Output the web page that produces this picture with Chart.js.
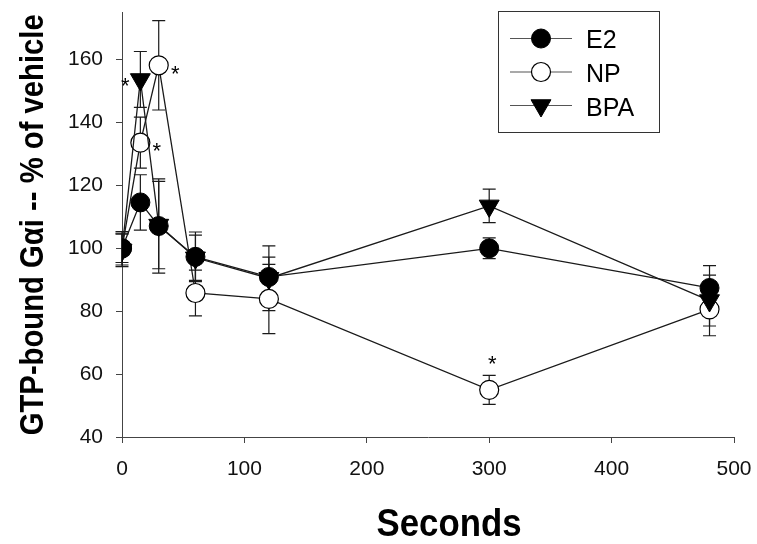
<!DOCTYPE html>
<html><head><meta charset="utf-8">
<script src="https://cdn.jsdelivr.net/npm/chart.js@4/dist/chart.umd.min.js"></script>
<style>html,body{margin:0;padding:0;background:#fff;overflow:hidden}#wrap{width:757px;height:544px}</style>
</head><body><div id="wrap"><canvas id="c" width="757" height="544"></canvas></div>
<script>
// ---- data ----
const seconds = [0, 15, 30, 60, 120, 300, 480];
const e2Values  = [100, 114.6, 107.1, 97.3, 90.9, 100.0, 87.4];
const e2Errors  = [5.3, 8.8, 15.0, 7.9, 6.3, 3.3, 7.1];
const npValues  = [100, 133.6, 158.2, 85.8, 83.9, 55.0, 80.6];
const npErrors  = [4.5, 8.1, 14.2, 7.3, 11.0, 4.6, 8.4];
const bpaValues = [99.5, 153.7, 107.4, 97.0, 90.5, 113.5, 83.4];
const bpaErrors = [5.3, 8.9, 13.9, 7.2, 10.3, 5.3, 8.1];
const seriesNames = ['E2', 'NP', 'BPA'];
const xTicks = [0, 100, 200, 300, 400, 500];
const yTicks = [40, 60, 80, 100, 120, 140, 160];
const xTitle = 'Seconds';
const yTitle = 'GTP-bound G\u03b1i -- % of vehicle';
const starMarks = [['BPA', 15, 'left'], ['NP', 15, 'right'], ['NP', 30, 'right'], ['NP', 300, 'above']];

const INK = '#1a1a1a';
const tickFont = {family: "'Liberation Sans', Arial, sans-serif", size: 21};

function pts(vals, errs) { return seconds.map((s, i) => ({x: s, y: vals[i], err: errs[i]})); }

const datasets = [
  {label: seriesNames[0], data: pts(e2Values, e2Errors), order: 0,
   pointStyle: 'circle', pointRadius: 9.5, pointBackgroundColor: '#000', pointBorderColor: '#000', pointBorderWidth: 1},
  {label: seriesNames[1], data: pts(npValues, npErrors), order: 2,
   pointStyle: 'circle', pointRadius: 9.5, pointBackgroundColor: '#fff', pointBorderColor: '#000', pointBorderWidth: 1.2},
  {label: seriesNames[2], data: pts(bpaValues, bpaErrors), order: 1,
   pointStyle: 'triangle', rotation: 180, pointRotation: 180, pointRadius: 11.5, pointBackgroundColor: '#000', pointBorderColor: '#000', pointBorderWidth: 1}
].map(d => Object.assign({borderColor: INK, borderWidth: 1.3, tension: 0, showLine: true, fill: false, pointHoverRadius: d.pointRadius}, d));

const errorBars = {
  id: 'errorBars',
  beforeDatasetsDraw(chart) {
    const ctx = chart.ctx, xs = chart.scales.x, ys = chart.scales.y;
    ctx.save();
    ctx.strokeStyle = INK; ctx.lineWidth = 1.2;
    chart.data.datasets.forEach(ds => {
      ds.data.forEach(p => {
        const x = xs.getPixelForValue(p.x);
        const y1 = ys.getPixelForValue(p.y + p.err), y2 = ys.getPixelForValue(p.y - p.err);
        ctx.beginPath();
        ctx.moveTo(x, y1); ctx.lineTo(x, y2);
        ctx.moveTo(x - 6.5, y1); ctx.lineTo(x + 6.5, y1);
        ctx.moveTo(x - 6.5, y2); ctx.lineTo(x + 6.5, y2);
        ctx.stroke();
      });
    });
    ctx.restore();
  }
};

function drawMarker(ctx, ds, x, y) {
  ctx.save();
  ctx.fillStyle = ds.pointBackgroundColor; ctx.strokeStyle = ds.pointBorderColor; ctx.lineWidth = ds.pointBorderWidth;
  const r = ds.pointRadius;
  ctx.beginPath();
  if (ds.pointStyle === 'triangle') {
    let a = Math.PI;
    ctx.moveTo(x + Math.sin(a) * r, y - Math.cos(a) * r);
    a += 2 * Math.PI / 3; ctx.lineTo(x + Math.sin(a) * r, y - Math.cos(a) * r);
    a += 2 * Math.PI / 3; ctx.lineTo(x + Math.sin(a) * r, y - Math.cos(a) * r);
    ctx.closePath();
  } else {
    ctx.arc(x, y, r, 0, Math.PI * 2);
  }
  ctx.fill(); ctx.stroke();
  ctx.restore();
}

function drawFitted(ctx, text, cx, cy, rot, size, width) {
  ctx.save();
  ctx.font = "bold " + size + "px 'Liberation Sans', Arial, sans-serif";
  const w = ctx.measureText(text).width;
  ctx.translate(cx, cy); ctx.rotate(rot); ctx.scale(width / w, 1);
  ctx.textAlign = 'center'; ctx.textBaseline = 'alphabetic'; ctx.fillStyle = '#000';
  ctx.fillText(text, 0, size * 0.36);
  ctx.restore();
}

const decorations = {
  id: 'decorations',
  afterDraw(chart) {
    const ctx = chart.ctx, xs = chart.scales.x, ys = chart.scales.y, ca = chart.chartArea;
    ctx.save();
    ctx.font = "22px 'Liberation Sans', Arial, sans-serif";
    ctx.fillStyle = '#000'; ctx.textAlign = 'center'; ctx.textBaseline = 'alphabetic';
    starMarks.forEach(([name, sec, side]) => {
      const ds = chart.data.datasets.find(d => d.label === name);
      const p = ds.data.find(q => q.x === sec);
      let x = xs.getPixelForValue(p.x), y = ys.getPixelForValue(p.y);
      if (side === 'left') { x -= 15; }
      else if (side === 'right') { x += 16.5; y += 2; }
      else { x += 3; y -= 32; }
      ctx.fillText('*', x, y + 22 * 0.6);
    });
    ctx.restore();
    const lx = 498.5, ly = 11.5, lw = 161, lh = 121;
    ctx.save();
    ctx.fillStyle = '#fff'; ctx.fillRect(lx, ly, lw, lh);
    ctx.strokeStyle = '#333'; ctx.lineWidth = 1; ctx.strokeRect(lx, ly, lw, lh);
    const rows = [38.5, 72, 105.5];
    chart.data.datasets.forEach((ds, i) => {
      const y = rows[i];
      ctx.strokeStyle = '#555'; ctx.lineWidth = 1.2;
      ctx.beginPath(); ctx.moveTo(510, y); ctx.lineTo(572, y); ctx.stroke();
      drawMarker(ctx, ds, 541, y);
      ctx.fillStyle = '#000'; ctx.font = "25px 'Liberation Sans', Arial, sans-serif";
      ctx.textAlign = 'left'; ctx.textBaseline = 'alphabetic';
      ctx.fillText(ds.label, 586, (i === 2 ? 106 : y) + 9.5);
    });
    ctx.restore();
    drawFitted(ctx, xTitle, 449, 522, 0, 38, 145);
    drawFitted(ctx, yTitle, 31, (ca.top + ca.bottom) / 2, -Math.PI / 2, 34, 421);
  }
};

new Chart(document.getElementById('c'), {
  type: 'line',
  data: {datasets},
  options: {
    responsive: false, animation: false, devicePixelRatio: 1,
    layout: {padding: {top: 8, right: 23, left: 0, bottom: 0}},
    plugins: {legend: {display: false}, tooltip: {enabled: false}},
    scales: {
      x: {type: 'linear', min: 0, max: 500,
        afterBuildTicks: s => { s.ticks = xTicks.map(v => ({value: v})); },
        afterFit: s => { s.height = 107; s.paddingLeft = 0; s.paddingRight = 0; },
        ticks: {font: tickFont, color: '#111', padding: 14, maxRotation: 0},
        grid: {drawOnChartArea: false, drawTicks: true, tickLength: 6, color: '#444', lineWidth: 1},
        border: {display: true, color: '#444', width: 1}},
      y: {type: 'linear', min: 40, max: 175,
        afterBuildTicks: s => { s.ticks = yTicks.map(v => ({value: v})); },
        afterFit: s => { s.width = 122; s.paddingTop = 0; s.paddingBottom = 0; },
        ticks: {font: tickFont, color: '#111', padding: 13},
        grid: {drawOnChartArea: false, drawTicks: true, tickLength: 6, color: '#444', lineWidth: 1},
        border: {display: true, color: '#444', width: 1}}
    }
  },
  plugins: [errorBars, decorations]
});
</script></body></html>
